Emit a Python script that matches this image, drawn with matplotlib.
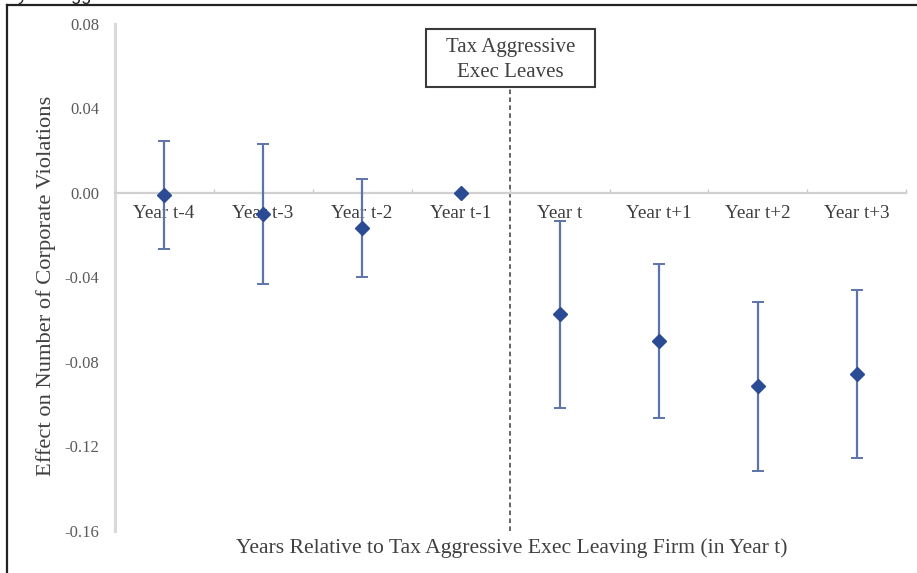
import matplotlib.pyplot as plt
import numpy as np
from matplotlib.lines import Line2D
from matplotlib.patches import Rectangle
from matplotlib.ticker import FixedLocator, FormatStrFormatter

# --- Event-study estimates (effect and half-width of the confidence interval) ---
years = ["Year t-4", "Year t-3", "Year t-2", "Year t-1",
         "Year t", "Year t+1", "Year t+2", "Year t+3"]
effect = [-0.001, -0.010, -0.0165, 0.0, -0.0575, -0.070, -0.0915, -0.0858]
ci_half = [0.0255, 0.033, 0.0232, 0.0, 0.0444, 0.0365, 0.040, 0.0398]
y_ticks = [0.08, 0.04, 0.00, -0.04, -0.08, -0.12, -0.16]

EVENT_POS = 3.5  # boundary between Year t-1 and Year t
BOX_TEXT = "Tax Aggressive\nExec Leaves"
X_TITLE = "Years Relative to Tax Aggressive Exec Leaving Firm (in Year t)"
Y_TITLE = "Effect on Number of Corporate Violations"
CAPTION_TAIL = "ly tax aggressive executive leaves the firm"

plt.rcParams["font.family"] = ["Liberation Serif", "DejaVu Serif"]
plt.rcParams["axes.unicode_minus"] = False

W, H = 917, 573
fig = plt.figure(figsize=(W / 100, H / 100), dpi=100)
ax = fig.add_axes([114.5 / W, 1 - 531 / H, (906.5 - 114.5) / W, (531 - 24) / H])

x = np.arange(len(years))
effect = np.asarray(effect)
ci_half = np.asarray(ci_half)
has_ci = ci_half > 0

ax.errorbar(x[has_ci], effect[has_ci], yerr=ci_half[has_ci], fmt="none",
            ecolor="#5d74aa", elinewidth=1.6, capsize=4, capthick=1.4, zorder=3)
ax.plot(x, effect, linestyle="none", marker="D", markersize=7,
        color="#2c4b95", zorder=4)

# dashed marker of the event year
box_bottom, box_top = 0.0502, 0.0777
ax.plot([EVENT_POS, EVENT_POS], [y_ticks[-1], box_bottom], color="#3a3a3a",
        linestyle=(0, (3, 2.2)), linewidth=1.1, clip_on=False, zorder=2)
ax.add_patch(Rectangle((EVENT_POS - 0.855, box_bottom), 1.71, box_top - box_bottom,
                       facecolor="white", edgecolor="#3a3a3a", linewidth=1.5,
                       clip_on=False, zorder=5))
ax.text(EVENT_POS, (box_bottom + box_top) / 2 - 0.001, BOX_TEXT, ha="center",
        va="center", fontsize=15, color="#404040", linespacing=1.45, zorder=6)

ax.set_xlim(-0.5, len(years) - 0.5)
ax.set_ylim(y_ticks[-1], y_ticks[0])

for side in ("top", "right"):
    ax.spines[side].set_visible(False)
ax.spines["left"].set_color("#d9d9d9")
ax.spines["left"].set_linewidth(2.2)
ax.spines["bottom"].set_position(("data", 0))
ax.spines["bottom"].set_color("#d0d0d0")
ax.spines["bottom"].set_linewidth(1.6)

ax.xaxis.set_major_locator(FixedLocator(x))
ax.set_xticklabels(years)
ax.xaxis.set_minor_locator(FixedLocator(np.arange(len(years) + 1) - 0.5))
ax.tick_params(axis="x", which="major", length=0, pad=9, labelsize=13.8,
               labelcolor="#3c3c3c")
ax.tick_params(axis="x", which="minor", direction="in", length=3,
               width=1, color="#c8c8c8")

ax.yaxis.set_major_locator(FixedLocator(y_ticks))
ax.yaxis.set_major_formatter(FormatStrFormatter("%.2f"))
ax.tick_params(axis="y", length=0, pad=11, labelsize=12, labelcolor="#5a5a5a")

fig.text(46 / W, 1 - 286 / H, Y_TITLE, rotation=90, ha="center", va="center",
         fontsize=16.2, color="#404040")
fig.text(512 / W, 1 - 548 / H, X_TITLE, ha="center", va="center",
         fontsize=15.6, color="#404040")

# frame of the cropped page and the clipped caption line above it
fig.add_artist(Line2D([7 / W, 7 / W], [0, 1 - 5 / H], transform=fig.transFigure,
                      color="#222222", linewidth=1.6))
fig.add_artist(Line2D([7 / W, 1], [1 - 5 / H, 1 - 5 / H], transform=fig.transFigure,
                      color="#222222", linewidth=1.6))
fig.text(14 / W, 1 - 0.5 / H, CAPTION_TAIL, ha="left", va="baseline",
         fontsize=13, family="Liberation Sans", color="#222222")

fig.savefig("out.png", dpi=100)
